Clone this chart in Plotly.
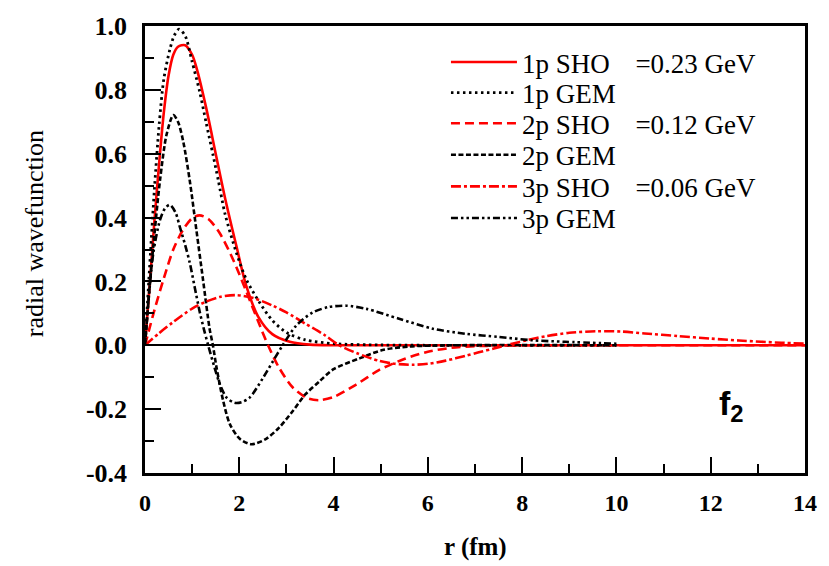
import plotly.graph_objects as go

# ---------------- data ----------------
r_1p_sho = [0, 0.1, 0.2, 0.3, 0.4, 0.5, 0.6, 0.7, 0.85, 1.0, 1.1, 1.3, 1.5, 1.7, 1.94, 2.15, 2.4, 2.7, 3.07, 3.5, 4.0, 5.0, 14.0]
f_1p_sho = [0, 0.19, 0.39, 0.57, 0.73, 0.845, 0.91, 0.935, 0.94, 0.91, 0.865, 0.742, 0.60, 0.46, 0.31, 0.185, 0.09, 0.035, 0.011, 0.002, 0, 0, 0]

r_1p_gem = [0, 0.1, 0.2, 0.3, 0.4, 0.53, 0.62, 0.72, 0.85, 1.0, 1.16, 1.3, 1.44, 1.55, 1.7, 1.94, 2.15, 2.43, 2.7, 3.0, 3.4, 4.0, 5.0, 6.0, 10.0]
f_1p_gem = [0, 0.25, 0.49, 0.69, 0.835, 0.928, 0.97, 0.99, 0.97, 0.888, 0.794, 0.695, 0.598, 0.52, 0.41, 0.289, 0.206, 0.134, 0.078, 0.04, 0.017, 0.005, 0.001, 0, 0]

r_2p_sho = [0, 0.2, 0.4, 0.6, 0.8, 1.0, 1.16, 1.35, 1.59, 1.87, 2.15, 2.4, 2.61, 2.85, 3.14, 3.45, 3.7, 4.0, 4.48, 4.97, 5.5, 6.0, 6.5, 7.0, 7.5, 8.0, 14.0]
f_2p_sho = [0, 0.11, 0.21, 0.30, 0.36, 0.398, 0.407, 0.395, 0.35, 0.268, 0.168, 0.075, 0, -0.072, -0.133, -0.166, -0.172, -0.162, -0.123, -0.077, -0.043, -0.02, -0.008, -0.003, -0.001, 0, 0]

r_2p_gem = [0, 0.08, 0.176, 0.317, 0.458, 0.6, 0.7, 0.81, 0.95, 1.09, 1.23, 1.37, 1.44, 1.52, 1.66, 1.8, 2.01, 2.26, 2.57, 2.85, 3.14, 3.4, 3.7, 4.0, 4.55, 5.04, 5.6, 6.5, 10.0]
f_2p_gem = [0, 0.15, 0.31, 0.515, 0.66, 0.721, 0.70, 0.639, 0.515, 0.361, 0.206, 0.052, 0, -0.072, -0.175, -0.247, -0.293, -0.31, -0.293, -0.257, -0.205, -0.154, -0.113, -0.075, -0.041, -0.015, -0.004, 0, 0]

r_3p_sho = [0, 0.3, 0.6, 1.0, 1.3, 1.6, 1.94, 2.3, 2.71, 3.0, 3.42, 3.8, 4.12, 4.5, 4.97, 5.3, 5.67, 6.0, 6.38, 6.8, 7.08, 7.4, 7.79, 8.1, 8.49, 9.0, 9.6, 10.1, 10.6, 11.3, 12.0, 12.6, 13.07, 13.5, 14.0]
f_3p_sho = [0, 0.038, 0.073, 0.115, 0.137, 0.152, 0.157, 0.148, 0.124, 0.103, 0.066, 0.033, 0.0, -0.025, -0.049, -0.058, -0.061, -0.058, -0.048, -0.033, -0.022, -0.01, 0.005, 0.016, 0.028, 0.039, 0.044, 0.043, 0.037, 0.029, 0.021, 0.015, 0.011, 0.008, 0.005]

r_3p_gem = [0, 0.08, 0.176, 0.317, 0.43, 0.53, 0.65, 0.74, 0.85, 0.95, 1.05, 1.16, 1.25, 1.34, 1.48, 1.59, 1.73, 1.9, 2.05, 2.22, 2.5, 2.71, 2.92, 3.21, 3.56, 3.9, 4.27, 4.7, 5.39, 6.1, 6.8, 7.5, 8.2, 8.9, 10.0]
f_3p_gem = [0, 0.15, 0.289, 0.392, 0.43, 0.44, 0.415, 0.37, 0.315, 0.258, 0.185, 0.105, 0.05, 0, -0.072, -0.123, -0.164, -0.18, -0.178, -0.164, -0.103, -0.051, 0, 0.062, 0.103, 0.12, 0.124, 0.114, 0.083, 0.052, 0.036, 0.026, 0.016, 0.011, 0.005]

GAP = "\u00a0\u00a0\u00a0\u2009"
names = [
    "1p SHO" + GAP + "=0.23 GeV",
    "1p GEM",
    "2p SHO" + GAP + "=0.12 GeV",
    "2p GEM",
    "3p SHO" + GAP + "=0.06 GeV",
    "3p GEM",
]
x_ticks = [0, 2, 4, 6, 8, 10, 12, 14]
y_ticks = [-0.4, -0.2, 0.0, 0.2, 0.4, 0.6, 0.8, 1.0]
y_ticklabels = ["-0.4", "-0.2", "0.0", "0.2", "0.4", "0.6", "0.8", "1.0"]

RED = "#ff0000"
BLACK = "#000000"

series = [
    (r_1p_sho, f_1p_sho, RED, "solid", 2.6),
    (r_1p_gem, f_1p_gem, BLACK, "2.5px,3.5px", 2.8),
    (r_2p_sho, f_2p_sho, RED, "9px,5px", 2.6),
    (r_2p_gem, f_2p_gem, BLACK, "5px,2.5px", 2.6),
    (r_3p_sho, f_3p_sho, RED, "10px,3px,3px,3px", 2.6),
    (r_3p_gem, f_3p_gem, BLACK, "7px,3px,2.5px,3px,2.5px,3px", 2.6),
]

serif = "Liberation Serif"
legend_rows_px = [57, 88, 119, 151, 183, 215]  # vertical centres of the legend rows

fig = go.Figure()
legend_layouts = {}
for i, ((xs, ys, col, dash, w), nm) in enumerate(zip(series, names)):
    lname = "legend" if i == 0 else f"legend{i + 1}"
    fig.add_trace(go.Scatter(
        x=xs, y=ys, mode="lines", name=nm, legend=lname,
        line=dict(color=col, dash=dash, width=w, shape="spline", smoothing=0.8),
    ))
    legend_layouts[lname] = dict(
        x=0.456, y=(473 - legend_rows_px[i]) / 453, xanchor="left", yanchor="middle",
        font=dict(family=serif, size=27, color="black"),
        bgcolor="rgba(0,0,0,0)", itemwidth=66,
    )

fig.update_layout(
    width=829, height=566,
    margin=dict(l=145, r=22, t=20, b=93),
    paper_bgcolor="white", plot_bgcolor="white",
    showlegend=True,
    xaxis=dict(
        range=[0, 14], tickvals=x_ticks, ticks="inside", ticklen=16, tickwidth=2,
        tickcolor="black", showline=True, linewidth=2.5, linecolor="black", mirror=True,
        showgrid=False, zeroline=False,
        tickfont=dict(family=serif, size=24, color="black", weight="bold"),
        minor=dict(dtick=1, ticks="inside", ticklen=9, tickwidth=2, tickcolor="black", showgrid=False),
        ticklabelstandoff=6,
    ),
    yaxis=dict(
        range=[-0.4, 1.0], tickvals=y_ticks, ticktext=y_ticklabels, ticks="inside", ticklen=16, tickwidth=2,
        tickcolor="black", showline=True, linewidth=2.5, linecolor="black", mirror=True,
        showgrid=False, zeroline=True, zerolinecolor="black", zerolinewidth=2.2,
        tickfont=dict(family=serif, size=26, color="black", weight="bold"),
        minor=dict(dtick=0.1, ticks="inside", ticklen=9, tickwidth=2, tickcolor="black", showgrid=False),
        ticklabelstandoff=10,
    ),
    annotations=[
        dict(text="r (fm)", xref="paper", yref="paper", x=0.5, y=-0.165, xanchor="center", yanchor="middle",
             showarrow=False, font=dict(family=serif, size=25, color="black", weight="bold")),
        dict(text="radial wavefunction", xref="paper", yref="paper", x=-0.167, y=0.536, xanchor="center",
             yanchor="middle", textangle=-90, showarrow=False, font=dict(family=serif, size=26, color="black")),
        dict(text="f<sub>2</sub>", xref="paper", yref="paper", x=0.866, y=0.15, xanchor="left", yanchor="middle",
             showarrow=False, font=dict(family="Liberation Sans", size=34, color="black", weight="bold")),
    ],
    **legend_layouts,
)

fig.write_html("out.html")
